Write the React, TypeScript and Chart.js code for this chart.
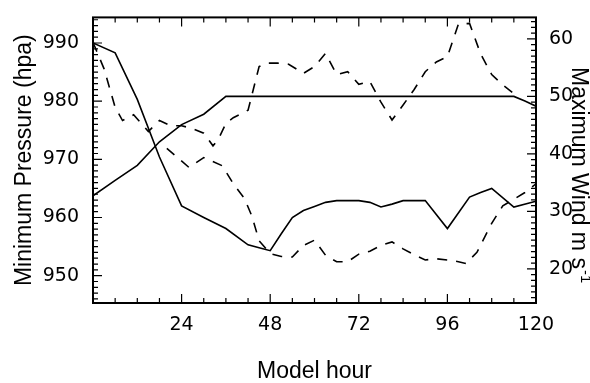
import React, { useEffect, useRef } from "react";
import { Chart, registerables } from "chart.js";

Chart.register(...registerables);

// Model minimum pressure (solid, left axis)
const modelPresHours = [0, 6, 12, 18, 24, 30, 36, 42, 45, 48, 51, 54, 57, 60, 63, 66, 72, 75, 78, 81, 84, 90, 96, 102, 105, 108, 114, 120];
const modelPres = [990, 988.3, 980.3, 970.4, 962.0, 960.0, 958.1, 955.3, 954.8, 954.3, 957.2, 960.0, 961.2, 961.9, 962.6, 962.9, 962.9, 962.6, 961.8, 962.3, 962.9, 962.9, 958.1, 963.5, 964.3, 965.0, 961.8, 962.8];

// Observed minimum pressure (dashed, left axis)
const obsPresHours = [20, 26, 30, 35, 38, 41, 43, 45, 48, 51, 54, 57, 60, 63, 66, 69, 72, 75, 78, 81, 84, 87, 90, 93, 96, 99, 101, 104, 108, 111, 117, 120];
const obsPres = [971.9, 968.6, 970.3, 968.9, 965.8, 963.3, 960.3, 956.0, 953.8, 953.3, 953.2, 955.2, 956.1, 953.5, 952.4, 952.4, 953.7, 954.2, 955.2, 955.8, 954.6, 953.6, 952.7, 952.9, 952.7, 952.4, 952.1, 954.0, 959.0, 962.0, 964.3, 965.8];

// Model maximum wind (solid, right axis)
const modelWindHours = [0, 6, 12, 18, 24, 30, 36, 114, 117, 120];
const modelWind = [32.7, 35.4, 38.0, 42.1, 45.1, 46.9, 50.0, 50.0, 49.2, 48.3];

// Observed maximum wind (dashed, right axis)
const obsWindHours = [0, 3, 6, 8, 11, 15, 18, 21, 24, 27, 30, 32.5, 34, 36, 38, 42, 45, 47, 50, 53, 57, 60, 63, 66, 69, 72, 75, 78, 81, 84, 87, 90, 93, 96, 99, 102, 105, 108, 111, 114];
const obsWind = [59.4, 54.8, 48.1, 45.8, 46.8, 43.9, 45.8, 44.9, 44.9, 44.4, 43.6, 41.4, 42.6, 45.3, 46.3, 47.6, 55.2, 55.8, 55.8, 55.6, 54.0, 55.2, 57.5, 53.8, 54.3, 52.1, 52.6, 49.0, 45.9, 48.5, 51.2, 54.3, 56.0, 56.9, 62.6, 62.7, 57.4, 53.8, 52.0, 50.5];

const hourTicks = [0, 24, 48, 72, 96, 120];
const presTicks = [950, 960, 970, 980, 990];
const windTicks = [20, 30, 40, 50, 60];

const xTitle = "Model hour";
const yLeftTitle = "Minimum Pressure (hpa)";
const yRightTitle = "Maximum Wind m s";
const yRightSup = "-1";

const toXY = (xs: number[], ys: number[]) => xs.map((x, i) => ({ x, y: ys[i] }));

const framePlugin = {
  id: "frameTicks",
  afterDatasetsDraw(chart: any) {
    const { ctx, chartArea: a, scales } = chart;
    const x = scales.x;
    const yl = scales.y;
    const yr = scales.y1;
    ctx.save();
    ctx.strokeStyle = "#000";
    ctx.lineWidth = 1.2;
    ctx.beginPath();
    for (let h = 0; h <= 120; h += 6) {
      const px = x.getPixelForValue(h);
      const len = h % 24 === 0 ? 9 : 5;
      ctx.moveTo(px, a.bottom);
      ctx.lineTo(px, a.bottom - len);
      ctx.moveTo(px, a.top);
      ctx.lineTo(px, a.top + len);
    }
    for (let v = Math.ceil(yl.min); v <= yl.max; v++) {
      const py = yl.getPixelForValue(v);
      const len = v % 10 === 0 ? 9 : 5;
      ctx.moveTo(a.left, py);
      ctx.lineTo(a.left + len, py);
    }
    for (let v = Math.ceil(yr.min); v <= yr.max; v++) {
      const py = yr.getPixelForValue(v);
      const len = v % 10 === 0 ? 9 : 5;
      ctx.moveTo(a.right, py);
      ctx.lineTo(a.right - len, py);
    }
    ctx.stroke();
    ctx.lineWidth = 2;
    ctx.strokeRect(a.left, a.top, a.right - a.left, a.bottom - a.top);

    ctx.fillStyle = "#000";
    ctx.font = '23px "Liberation Sans", Arial, sans-serif';
    ctx.textBaseline = "alphabetic";
    ctx.textAlign = "center";
    ctx.fillText(xTitle, (a.left + a.right) / 2, 378);

    ctx.save();
    ctx.translate(31, (a.top + a.bottom) / 2);
    ctx.rotate(-Math.PI / 2);
    ctx.textAlign = "center";
    ctx.fillText(yLeftTitle, 0, 0);
    ctx.restore();

    ctx.save();
    ctx.translate(572, 67);
    ctx.rotate(Math.PI / 2);
    ctx.textAlign = "left";
    ctx.fillText(yRightTitle, 0, 0);
    const w = ctx.measureText(yRightTitle).width;
    ctx.font = '15px "Liberation Sans", Arial, sans-serif';
    ctx.fillText(yRightSup, w + 1, -9);
    ctx.restore();

    ctx.restore();
  },
};

export default function App() {
  const ref = useRef<HTMLCanvasElement | null>(null);
  useEffect(() => {
    if (!ref.current) return;
    const tickFont = { family: '"DejaVu Sans", sans-serif', size: 19 };
    const chart = new Chart(ref.current, {
      type: "line",
      data: {
        datasets: [
          {
            label: "Model pressure",
            data: toXY(modelPresHours, modelPres),
            yAxisID: "y",
            borderColor: "#000",
            borderWidth: 1.6,
            pointRadius: 0,
            tension: 0,
          },
          {
            label: "Observed pressure",
            data: toXY(obsPresHours, obsPres),
            yAxisID: "y",
            borderColor: "#000",
            borderWidth: 1.6,
            borderDash: [10, 9],
            pointRadius: 0,
            tension: 0,
          },
          {
            label: "Model wind",
            data: toXY(modelWindHours, modelWind),
            yAxisID: "y1",
            borderColor: "#000",
            borderWidth: 1.6,
            pointRadius: 0,
            tension: 0,
          },
          {
            label: "Observed wind",
            data: toXY(obsWindHours, obsWind),
            yAxisID: "y1",
            borderColor: "#000",
            borderWidth: 1.6,
            borderDash: [10, 9],
            pointRadius: 0,
            tension: 0,
          },
        ],
      },
      options: {
        responsive: false,
        animation: false,
        devicePixelRatio: 1,
        layout: { padding: { top: 7, left: 0, right: 0, bottom: 0 } },
        plugins: { legend: { display: false }, tooltip: { enabled: false } },
        scales: {
          x: {
            type: "linear",
            min: 0,
            max: 120,
            grid: { display: false },
            border: { display: false },
            afterBuildTicks: (s: any) => {
              s.ticks = hourTicks.map((v) => ({ value: v }));
            },
            afterFit: (s: any) => {
              s.height = 80;
            },
            ticks: {
              color: "#000",
              font: tickFont,
              padding: 3,
              maxRotation: 0,
              autoSkip: false,
              callback: (v: any) => (Number(v) === 0 ? "" : String(v)),
            },
          },
          y: {
            type: "linear",
            position: "left",
            min: 945.3,
            max: 994.4,
            grid: { display: false },
            border: { display: false },
            afterBuildTicks: (s: any) => {
              s.ticks = presTicks.map((v) => ({ value: v }));
            },
            afterFit: (s: any) => {
              s.width = 93;
            },
            ticks: { color: "#000", font: tickFont, padding: 6, callback: (v: any) => String(v) },
          },
          y1: {
            type: "linear",
            position: "right",
            min: 14.05,
            max: 63.75,
            grid: { display: false },
            border: { display: false },
            afterBuildTicks: (s: any) => {
              s.ticks = windTicks.map((v) => ({ value: v }));
            },
            afterFit: (s: any) => {
              s.width = 54;
            },
            ticks: { color: "#000", font: tickFont, padding: 5, callback: (v: any) => String(v) },
          },
        },
      },
      plugins: [framePlugin],
    });
    return () => chart.destroy();
  }, []);
  return (
    <div style={{ position: "absolute", left: 0, top: 0, width: 590, height: 383, background: "#fff" }}>
      <canvas ref={ref} width={590} height={383} />
    </div>
  );
}
